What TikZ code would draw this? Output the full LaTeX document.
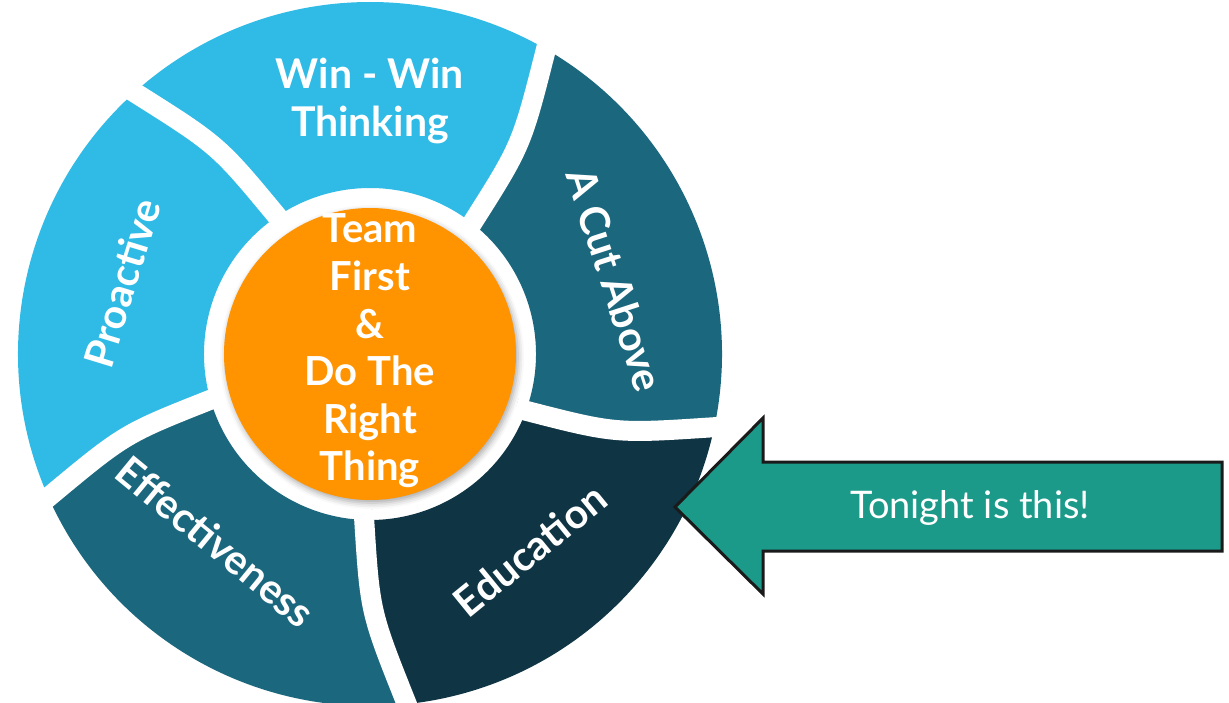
\documentclass[tikz,border=0pt]{standalone}
\usepackage{fontspec}
\setmainfont{Lato}
\usetikzlibrary{shadows.blur}

\definecolor{skyseg}{HTML}{2FBBE5}
\definecolor{tealseg}{HTML}{1B677E}
\definecolor{navyseg}{HTML}{0F3443}
\definecolor{hubfill}{HTML}{FF9300}
\definecolor{pointerfill}{HTML}{1B9A8A}
\definecolor{pointerline}{HTML}{1A1A1A}

% One ring segment between two curved dividers.
% #1 colour, #2 inner angle of the counter-clockwise divider, #3 inner angle of the clockwise divider.
\newcommand\ringseg[3]{%
  \fill[#1] ({#3+8}:352pt) arc[start angle={#3+8}, end angle={#2+8}, radius=352pt]
    .. controls ({#2+2}:258pt) .. (#2:166pt)
    arc[start angle=#2, end angle=#3, radius=166pt]
    .. controls ({#3+2}:258pt) .. ({#3+8}:352pt) -- cycle;}

\begin{document}
\begin{tikzpicture}[x=1pt,y=1pt,
  seglabel/.style={text=white, font=\fontsize{41}{48}\selectfont\bfseries,
    align=center, inner sep=0pt},
  hublabel/.style={font=\fontsize{40}{47.6}\selectfont\bfseries,
    align=center, inner sep=0pt},
  divider/.style={white, line width=20pt, line cap=rect},
  pointer/.style={fill=pointerfill, draw=pointerline, line width=3pt, line join=miter},
  pointerlabel/.style={text=white, font=\fontsize{38}{40}\selectfont, inner sep=0pt}]
\useasboundingbox (-370,-348) rectangle (859,354);

% ring segments
\ringseg{skyseg}{124}{52}
\ringseg{tealseg}{52}{-20}
\ringseg{navyseg}{-20}{-92}
\ringseg{tealseg}{-92}{-164}
\ringseg{skyseg}{196}{124}

% white gaps between segments
\foreach \a in {124,52,-20,-92,-164}
  \draw[divider] (\a:166pt) .. controls ({\a+2}:258pt) .. ({\a+8}:352pt);

% segment labels
\node[seglabel] (winwin) at (0,253) {Win - Win\\Thinking};
\node[seglabel, rotate=-72] (cutabove) at (16.8:256pt) {A Cut Above};
\node[seglabel, rotate=39.2] (education) at (-50.8:253pt) {Education};
\node[seglabel, rotate=-39.4] (effectiveness) at (230.6:243pt) {Effectiveness};
\node[seglabel, rotate=73] (proactive) at (164:258pt) {Proactive};

% orange hub
\node[circle, fill=hubfill, minimum size=292pt, inner sep=0pt,
  blur shadow={shadow xshift=2pt, shadow yshift=-3pt, shadow blur radius=6pt,
    shadow opacity=35}] (hub) at (0,0) {};
\node[hublabel, text=white] (hubtext) at (0,3) {Team\\First\\\&\\Do The\\Right\\Thing};

% pointer arrow
\coordinate (tip) at (305,-153);
\draw[pointer] (tip) -- (393,-64) -- (393,-108) -- (852,-108) -- (852,-197)
  -- (393,-197) -- (393,-240) -- cycle;
\node[pointerlabel] (tonight) at (600,-154) {Tonight is this!};
\end{tikzpicture}
\end{document}
